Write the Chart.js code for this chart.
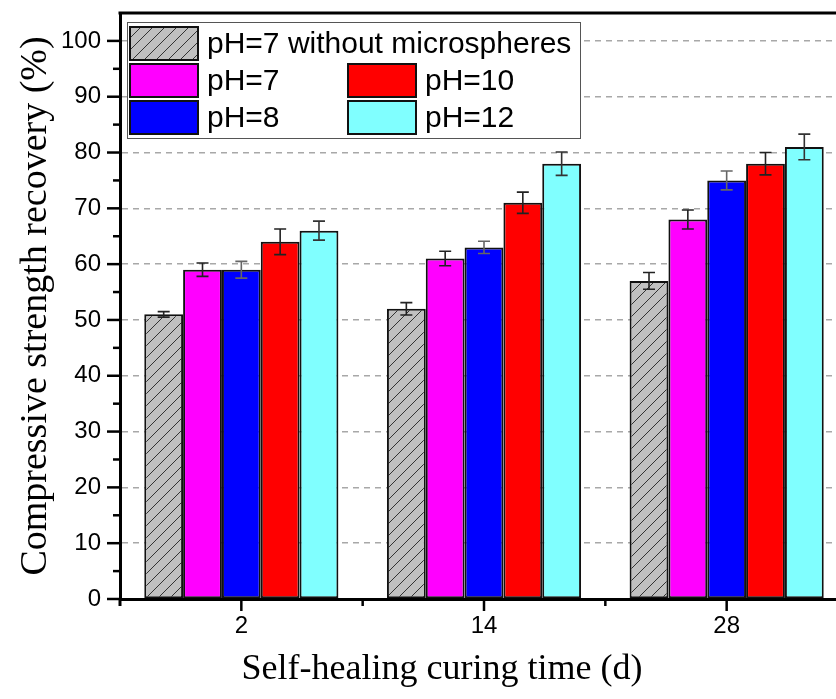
<!DOCTYPE html>
<html>
<head>
<meta charset="utf-8">
<script src="https://cdn.jsdelivr.net/npm/chart.js@4/dist/chart.umd.min.js"></script>
<style>
  html, body { margin: 0; padding: 0; background: #fff; overflow: hidden; }
  #wrap { position: absolute; left: 0; top: 0; width: 860px; height: 699px; }
</style>
</head>
<body>
<div id="wrap"><canvas id="chart"></canvas></div>
<script>
// curing time categories
const days = ['2', '14', '28'];
const seriesNames = ['pH=7 without microspheres', 'pH=7', 'pH=8', 'pH=10', 'pH=12'];

// compressive strength recovery (%) and error bars
const noMicro = [51, 52, 57];
const noMicroErr = [0.5, 1.1, 1.5];
const ph7 = [59, 61, 68];
const ph7Err = [1.2, 1.3, 1.7];
const ph8 = [59, 63, 75];
const ph8Err = [1.5, 1.1, 1.7];
const ph10 = [64, 71, 78];
const ph10Err = [2.3, 1.9, 2.0];
const ph12 = [66, 78, 81];
const ph12Err = [1.7, 2.1, 2.3];

const yTicks = [0, 10, 20, 30, 40, 50, 60, 70, 80, 90, 100];

function makeHatch() {
  const c = document.createElement('canvas');
  c.width = 12; c.height = 12;
  const g = c.getContext('2d');
  g.fillStyle = '#c0c0c0';
  g.fillRect(0, 0, 12, 12);
  g.strokeStyle = '#333';
  g.lineWidth = 1;
  g.beginPath();
  g.moveTo(0, 12); g.lineTo(12, 0);
  g.moveTo(-6, 6); g.lineTo(6, -6);
  g.moveTo(6, 18); g.lineTo(18, 6);
  g.stroke();
  return g.createPattern(c, 'repeat');
}

const fills = [makeHatch(), '#ff00ff', '#0000ff', '#ff0000', '#80ffff'];
const errColors = ['#222', '#222', '#666', '#222', '#333'];
const values = [noMicro, ph7, ph8, ph10, ph12];
const errors = [noMicroErr, ph7Err, ph8Err, ph10Err, ph12Err];

const datasets = seriesNames.map((name, i) => ({
  label: name,
  data: values[i],
  backgroundColor: fills[i],
  borderColor: '#111',
  borderWidth: 2,
  borderSkipped: false,
  categoryPercentage: 0.8,
  barPercentage: 1.0
}));

const extras = {
  id: 'extras',
  afterDatasetsDraw(chart) {
    const ctx = chart.ctx;
    const y = chart.scales.y;
    // error bars
    chart.data.datasets.forEach((ds, i) => {
      const meta = chart.getDatasetMeta(i);
      meta.data.forEach((bar, j) => {
        const v = ds.data[j], e = errors[i][j];
        const top = y.getPixelForValue(v + e);
        const bot = y.getPixelForValue(v - e);
        ctx.save();
        ctx.strokeStyle = errColors[i];
        ctx.lineWidth = 1.6;
        ctx.beginPath();
        ctx.moveTo(bar.x, top); ctx.lineTo(bar.x, bot);
        ctx.moveTo(bar.x - 6, top); ctx.lineTo(bar.x + 6, top);
        ctx.moveTo(bar.x - 6, bot); ctx.lineTo(bar.x + 6, bot);
        ctx.stroke();
        ctx.restore();
      });
    });
  },
  afterDraw(chart) {
    const ctx = chart.ctx;
    const area = chart.chartArea;
    const y = chart.scales.y;
    const x = chart.scales.x;
    ctx.save();
    ctx.strokeStyle = '#000';
    ctx.lineWidth = 3;
    // top frame line
    ctx.beginPath();
    ctx.moveTo(area.left - 1.5, area.top);
    ctx.lineTo(chart.width, area.top);
    ctx.stroke();
    // left axis runs a little below the x axis
    ctx.beginPath();
    ctx.moveTo(area.left, area.bottom);
    ctx.lineTo(area.left, area.bottom + 7);
    ctx.stroke();
    // y ticks, major and minor
    ctx.lineWidth = 2.5;
    for (let v = 0; v <= 100; v += 5) {
      const py = y.getPixelForValue(v);
      const len = v % 10 === 0 ? 13 : 7;
      ctx.beginPath();
      ctx.moveTo(area.left - len, py);
      ctx.lineTo(area.left, py);
      ctx.stroke();
    }
    // x ticks: major at category centres, minor at boundaries
    const n = days.length;
    for (let k = 0; k < n; k++) {
      const px = x.getPixelForValue(k);
      ctx.beginPath();
      ctx.moveTo(px, area.bottom);
      ctx.lineTo(px, area.bottom + 12);
      ctx.stroke();
      if (k > 0) {
        const mx = (px + x.getPixelForValue(k - 1)) / 2;
        ctx.beginPath();
        ctx.moveTo(mx, area.bottom);
        ctx.lineTo(mx, area.bottom + 7);
        ctx.stroke();
      }
    }
    // x axis title
    ctx.fillStyle = '#000';
    ctx.font = '36px "Liberation Serif", "Times New Roman", serif';
    ctx.textAlign = 'center';
    ctx.textBaseline = 'middle';
    ctx.fillText('Self-healing curing time (d)', 442, 670);

    // legend box
    ctx.fillStyle = '#fff';
    ctx.fillRect(127, 22, 453, 116);
    ctx.strokeStyle = '#555';
    ctx.lineWidth = 1;
    ctx.strokeRect(127.5, 22.5, 453, 116);
    const slots = [[130, 27], [130, 64], [130, 101], [348, 64], [348, 101]];
    ctx.font = '30px "Liberation Sans", Arial, sans-serif';
    ctx.textAlign = 'left';
    chart.data.datasets.forEach((ds, i) => {
      const [sx, sy] = slots[i];
      ctx.fillStyle = ds.backgroundColor;
      ctx.fillRect(sx, sy, 68, 33);
      ctx.strokeStyle = '#111';
      ctx.lineWidth = 2;
      ctx.strokeRect(sx, sy, 68, 33);
      ctx.fillStyle = '#000';
      ctx.fillText(ds.label, sx + 77, sy + 18);
    });
    ctx.restore();
  }
};

new Chart(document.getElementById('chart'), {
  type: 'bar',
  data: { labels: days, datasets: datasets },
  plugins: [extras],
  options: {
    responsive: true,
    maintainAspectRatio: false,
    animation: false,
    layout: { padding: { top: 13, right: 12, left: 0, bottom: 0 } },
    plugins: { legend: { display: false }, tooltip: { enabled: false } },
    scales: {
      x: {
        offset: true,
        grid: { display: false, drawTicks: false },
        border: { display: true, color: '#000', width: 3 },
        ticks: { color: '#000', padding: 13, font: { family: 'Liberation Sans', size: 24 } },
        afterFit(s) { s.height = 100; s.paddingLeft = 0; s.paddingRight = 0; }
      },
      y: {
        min: 0,
        max: 105,
        afterBuildTicks(s) { s.ticks = yTicks.map(v => ({ value: v })); },
        grid: { color: '#a8a8a8', lineWidth: 1.5, drawTicks: false },
        border: { display: true, color: '#000', width: 3, dash: [6, 5] },
        ticks: { color: '#000', padding: 19, font: { family: 'Liberation Sans', size: 24 } },
        title: {
          display: true,
          text: 'Compressive strength recovery (%)',
          color: '#000',
          font: { family: 'Liberation Serif', size: 38, weight: 'normal' },
          padding: { top: 13, bottom: 0 }
        },
        afterFit(s) { s.width = 120; s.paddingTop = 0; s.paddingBottom = 0; }
      }
    }
  }
});
</script>
</body>
</html>
